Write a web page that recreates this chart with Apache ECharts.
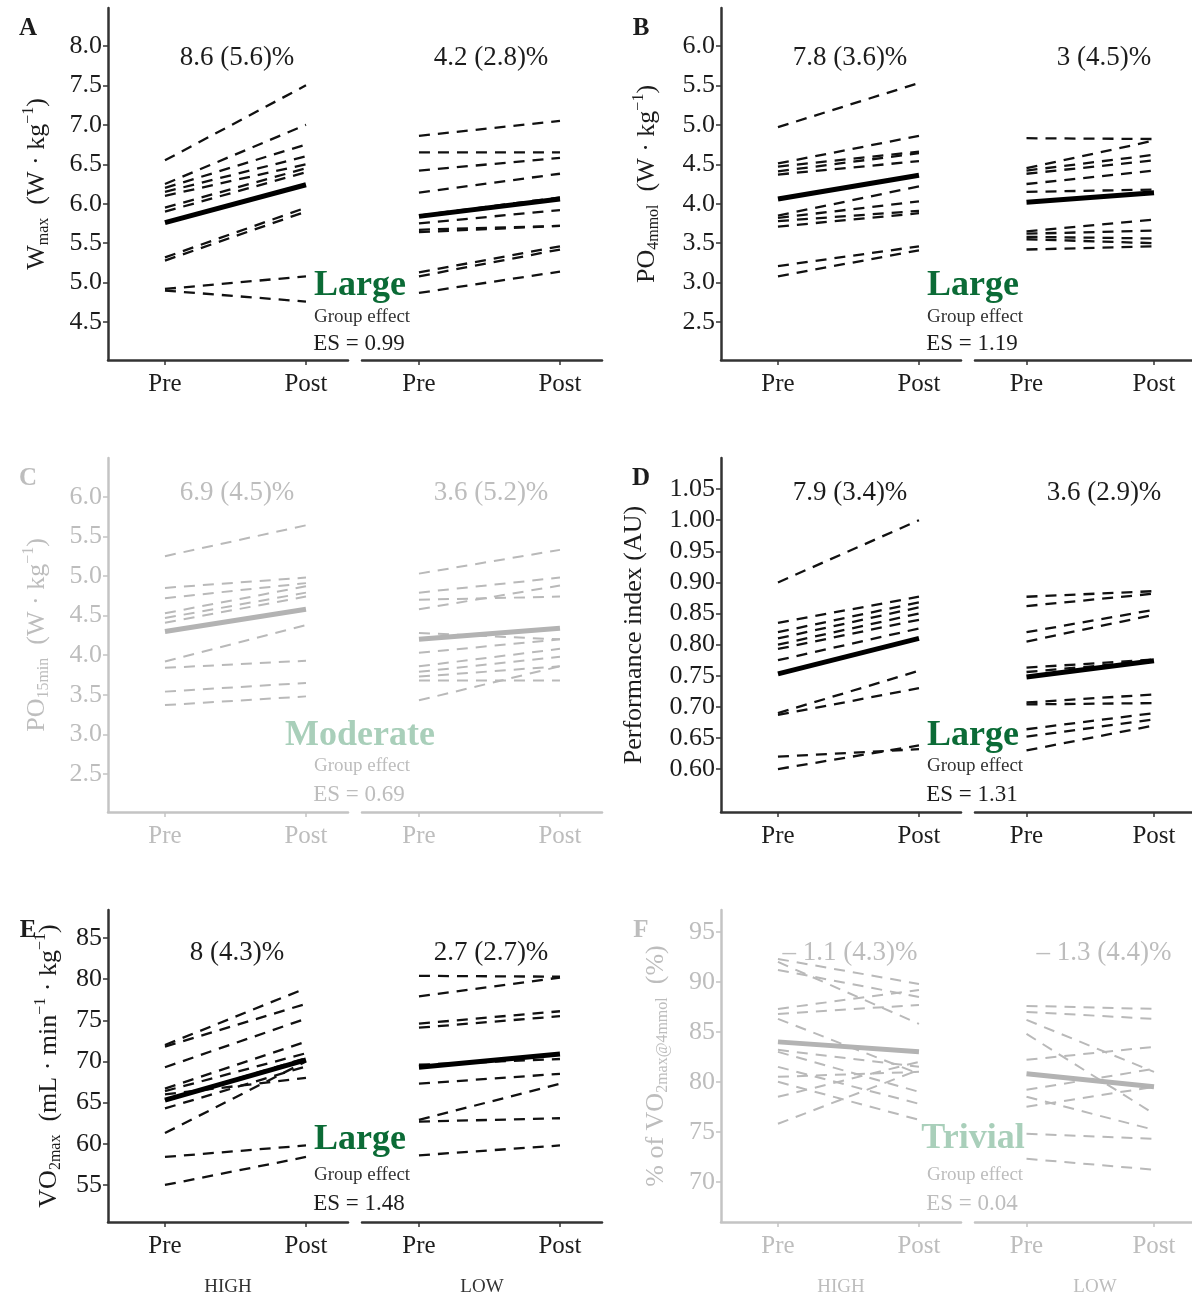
<!DOCTYPE html>
<html>
<head>
<meta charset="utf-8">
<script src="https://cdn.jsdelivr.net/npm/echarts@6/dist/echarts.min.js"></script>
<style>
  html, body { margin: 0; padding: 0; background: #fff; }
  #chart { width: 1192px; height: 1298px; }
</style>
</head>
<body>
<div id="chart"></div>
<script>
  // x categories
  const phases = ['Pre', 'Post'];
  const groups = ['HIGH', 'LOW'];

  // A - Wmax
  const aTicks = [4.5, 5.0, 5.5, 6.0, 6.5, 7.0, 7.5, 8.0];
  const aHighPre = [6.55, 6.25, 6.2, 6.15, 6.1, 5.95, 5.9, 5.32, 5.28, 4.92, 4.9];
  const aHighPost = [7.5, 7.0, 6.75, 6.6, 6.5, 6.45, 6.4, 5.95, 5.9, 5.08, 4.76];
  const aHighMean = [5.76, 6.24];
  const aLowPre = [6.86, 6.65, 6.42, 6.14, 5.85, 5.75, 5.67, 5.64, 5.13, 5.08, 4.87];
  const aLowPost = [7.05, 6.65, 6.58, 6.38, 6.08, 5.92, 5.72, 5.72, 5.46, 5.42, 5.14];
  const aLowMean = [5.84, 6.06];
  const aChange = ['8.6 (5.6)%', '4.2 (2.8)%'];
  const aEffect = ['Large', 'ES = 0.99'];

  // B - PO4mmol
  const bTicks = [2.5, 3.0, 3.5, 4.0, 4.5, 5.0, 5.5, 6.0];
  const bHighPre = [4.97, 4.51, 4.47, 4.41, 4.37, 3.85, 3.82, 3.78, 3.71, 3.21, 3.08];
  const bHighPost = [5.53, 4.86, 4.66, 4.64, 4.54, 4.22, 4.03, 3.91, 3.88, 3.46, 3.41];
  const bHighMean = [4.06, 4.36];
  const bLowPre = [4.83, 4.45, 4.42, 4.38, 4.25, 4.15, 3.65, 3.62, 3.58, 3.55, 3.42];
  const bLowPost = [4.82, 4.80, 4.62, 4.55, 4.42, 4.18, 3.80, 3.66, 3.56, 3.50, 3.46];
  const bLowMean = [4.02, 4.14];
  const bChange = ['7.8 (3.6)%', '3 (4.5)%'];
  const bEffect = ['Large', 'ES = 1.19'];

  // C - PO15min
  const cTicks = [2.5, 3.0, 3.5, 4.0, 4.5, 5.0, 5.5, 6.0];
  const cHighPre = [5.25, 4.85, 4.72, 4.53, 4.47, 4.41, 3.92, 3.84, 3.54, 3.37];
  const cHighPost = [5.64, 4.98, 4.91, 4.87, 4.79, 4.74, 4.38, 3.93, 3.65, 3.48];
  const cHighMean = [4.30, 4.58];
  const cLowPre = [5.03, 4.79, 4.70, 4.58, 4.28, 4.03, 3.86, 3.79, 3.73, 3.68, 3.43];
  const cLowPost = [5.33, 4.98, 4.74, 4.88, 4.20, 4.20, 4.08, 3.98, 3.86, 3.68, 3.86];
  const cLowMean = [4.20, 4.34];
  const cChange = ['6.9 (4.5)%', '3.6 (5.2)%'];
  const cEffect = ['Moderate', 'ES = 0.69'];

  // D - Performance index
  const dTicks = [0.60, 0.65, 0.70, 0.75, 0.80, 0.85, 0.90, 0.95, 1.00, 1.05];
  const dHighPre = [0.900, 0.835, 0.820, 0.810, 0.800, 0.793, 0.775, 0.690, 0.687, 0.620, 0.600];
  const dHighPost = [1.000, 0.877, 0.868, 0.860, 0.850, 0.840, 0.826, 0.758, 0.730, 0.632, 0.638];
  const dHighMean = [0.753, 0.810];
  const dLowPre = [0.877, 0.862, 0.820, 0.805, 0.763, 0.756, 0.707, 0.704, 0.664, 0.652, 0.630];
  const dLowPost = [0.886, 0.882, 0.856, 0.848, 0.776, 0.774, 0.720, 0.706, 0.690, 0.680, 0.670];
  const dLowMean = [0.748, 0.774];
  const dChange = ['7.9 (3.4)%', '3.6 (2.9)%'];
  const dEffect = ['Large', 'ES = 1.31'];

  // E - VO2max
  const eTicks = [55, 60, 65, 70, 75, 80, 85];
  const eHighPre = [72.0, 71.8, 69.3, 66.7, 66.4, 66.0, 65.3, 64.3, 61.3, 58.4, 55.0];
  const eHighPost = [78.9, 77.0, 75.2, 72.4, 71.0, 68.0, 70.4, 69.4, 70.0, 59.8, 58.4];
  const eHighMean = [65.3, 70.2];
  const eLowPre = [80.4, 77.9, 74.6, 74.1, 69.6, 67.3, 62.9, 62.7, 58.6];
  const eLowPost = [80.3, 80.2, 76.1, 75.5, 70.3, 68.5, 67.3, 63.1, 59.8];
  const eLowMean = [69.3, 70.9];
  const eChange = ['8 (4.3)%', '2.7 (2.7)%'];
  const eEffect = ['Large', 'ES = 1.48'];

  // F - % of VO2max at 4 mmol
  const fTicks = [70, 75, 80, 85, 90, 95];
  const fHighPre = [92.3, 92.0, 91.2, 87.3, 86.8, 86.3, 83.2, 83.0, 81.5, 80.5, 80.0, 78.5, 75.8];
  const fHighPost = [89.8, 85.8, 88.5, 89.2, 87.7, 80.8, 81.5, 79.0, 77.8, 81.0, 76.2, 82.0, 81.2];
  const fHighMean = [84.0, 83.0];
  const fLowPre = [87.6, 87.0, 86.2, 84.8, 82.2, 79.2, 78.5, 77.5, 74.8, 72.3];
  const fLowPost = [87.3, 86.3, 81.0, 76.8, 83.5, 81.3, 75.2, 79.5, 74.3, 71.2];
  const fLowMean = [80.8, 79.5];
  const fChange = ['\u2013 1.1 (4.3)%', '\u2013 1.3 (4.4)%'];
  const fEffect = ['Trivial', 'ES = 0.04'];

  const FONT = '"Liberation Serif", "Times New Roman", serif';
  const DARK = '#1c1c1c';
  const FADE = '#bdbdbd';
  const GREEN = '#0b6b36';
  const GREEN_FADE = '#a9cfba';

  const panels = [
    {letter: 'A', x: 108, top: 8, bottom: 360, min: 4.02, max: 8.48, ticks: aTicks, dec: 1, faded: false,
      name: '{n|W}{s|max}{n|  (W · kg}{p|\u22121}{n|)}', nameGap: 54,
      high: [aHighPre, aHighPost, aHighMean], low: [aLowPre, aLowPost, aLowMean],
      change: aChange, changeY: 58, effect: aEffect, effectY: [286, 317, 344]},
    {letter: 'B', x: 721, top: 8, bottom: 360, min: 2.02, max: 6.48, ticks: bTicks, dec: 1, faded: false,
      name: '{n|PO}{s|4mmol}{n|  (W · kg}{p|\u22121}{n|)}', nameGap: 57,
      high: [bHighPre, bHighPost, bHighMean], low: [bLowPre, bLowPost, bLowMean],
      change: bChange, changeY: 58, effect: bEffect, effectY: [286, 317, 344]},
    {letter: 'C', x: 108, top: 458, bottom: 812, min: 2.02, max: 6.49, ticks: cTicks, dec: 1, faded: true,
      name: '{n|PO}{s|15min}{n|  (W · kg}{p|\u22121}{n|)}', nameGap: 54,
      high: [cHighPre, cHighPost, cHighMean], low: [cLowPre, cLowPost, cLowMean],
      change: cChange, changeY: 493, effect: cEffect, effectY: [736, 766, 795]},
    {letter: 'D', x: 721, top: 458, bottom: 812, min: 0.531, max: 1.10, ticks: dTicks, dec: 2, faded: false,
      name: '{n|Performance index (AU)}', nameGap: 70,
      high: [dHighPre, dHighPost, dHighMean], low: [dLowPre, dLowPost, dLowMean],
      change: dChange, changeY: 493, effect: dEffect, effectY: [736, 766, 795]},
    {letter: 'E', x: 108, top: 910, bottom: 1222, min: 50.5, max: 88.4, ticks: eTicks, dec: 0, faded: false,
      name: '{n|VO}{s|2max}{n|  (mL · min}{p|\u22121}{n| · kg}{p|\u22121}{n|)}', nameGap: 42,
      high: [eHighPre, eHighPost, eHighMean], low: [eLowPre, eLowPost, eLowMean],
      change: eChange, changeY: 953, effect: eEffect, effectY: [1140, 1175, 1204]},
    {letter: 'F', x: 721, top: 910, bottom: 1222, min: 65.97, max: 97.2, ticks: fTicks, dec: 0, faded: true,
      name: '{n|% of VO}{s|2max@4mmol}{n|  (%)}', nameGap: 48,
      high: [fHighPre, fHighPost, fHighMean], low: [fLowPre, fLowPost, fLowMean],
      change: fChange, changeY: 953, effect: fEffect, effectY: [1139, 1175, 1204]}
  ];

  const grid = [], xAxis = [], yAxis = [], series = [], graphic = [];

  function txt(x, y, text, size, color, weight) {
    return {
      type: 'text', x: x, y: y, z: 100, silent: true,
      style: {
        text: text, font: (weight || 'normal') + ' ' + size + 'px ' + FONT, fill: color,
        textAlign: 'center', textVerticalAlign: 'middle', align: 'center', verticalAlign: 'middle'
      }
    };
  }

  let gi = 0;
  panels.forEach(p => {
    const col = p.faded ? FADE : DARK;
    const lineCol = p.faded ? '#b9b9b9' : '#111';
    const axCol = p.faded ? '#c4c4c4' : '#333';
    [0, 1].forEach(g => {
      const left = p.x + g * 254;
      grid.push({left: left, top: p.top, width: 240, height: p.bottom - p.top});
      xAxis.push({
        type: 'value', gridIndex: gi, min: 0.596, max: 2.298,
        axisLine: {show: true, onZero: false, lineStyle: {color: axCol, width: 2.5}},
        axisTick: {show: true, customValues: [1, 2], length: 5, lineStyle: {color: axCol, width: 1.5}},
        axisLabel: {customValues: [1, 2], formatter: v => phases[v - 1], margin: 12,
          fontFamily: FONT, fontSize: 25, color: col},
        splitLine: {show: false}
      });
      yAxis.push({
        type: 'value', gridIndex: gi, min: p.min, max: p.max, show: g === 0,
        axisLine: {show: true, lineStyle: {color: axCol, width: 2.5}},
        axisTick: {show: true, customValues: p.ticks, length: 5, lineStyle: {color: axCol, width: 1.5}},
        axisLabel: {customValues: p.ticks, formatter: v => v.toFixed(p.dec), margin: 6,
          fontFamily: FONT, fontSize: 26, color: col},
        splitLine: {show: false},
        name: g === 0 ? p.name : '', nameLocation: 'middle', nameGap: p.nameGap, nameRotate: 90,
        nameTextStyle: {
          fontFamily: FONT, fontSize: 26, color: col,
          rich: {
            n: {fontFamily: FONT, fontSize: 26, color: col, lineHeight: 34, verticalAlign: 'middle'},
            s: {fontFamily: FONT, fontSize: 16, color: col, lineHeight: 34, verticalAlign: 'bottom', padding: [0, 0, 2, 0]},
            p: {fontFamily: FONT, fontSize: 16, color: col, lineHeight: 34, verticalAlign: 'top', padding: [1, 0, 0, 0]}
          }
        }
      });
      const [pre, post, mean] = g === 0 ? p.high : p.low;
      pre.forEach((v, i) => {
        series.push({
          type: 'line', xAxisIndex: gi, yAxisIndex: gi, silent: true, symbol: 'none', animation: false,
          data: [[1, v], [2, post[i]]],
          lineStyle: {color: lineCol, width: p.faded ? 2 : 2.3, type: [11, 8]}, z: 2
        });
      });
      series.push({
        type: 'line', xAxisIndex: gi, yAxisIndex: gi, silent: true, symbol: 'none', animation: false,
        data: [[1, mean[0]], [2, mean[1]]],
        lineStyle: {color: p.faded ? '#b3b3b3' : '#000', width: 5}, z: 3
      });
      graphic.push(txt(left + 129, p.changeY, p.change[g], 27, col));
      gi++;
    });
    graphic.push(txt(p.x - 80, p.top + 21, p.letter, 25, col, 'bold'));
    const ex = p.x + 252;
    graphic.push(txt(ex, p.effectY[0], p.effect[0], 36, p.faded ? GREEN_FADE : GREEN, 'bold'));
    graphic.push(txt(ex + 2, p.effectY[1], 'Group effect', 19, p.faded ? FADE : '#333'));
    graphic.push(txt(ex - 1, p.effectY[2], p.effect[1], 23, col));
    if (p.letter === 'E' || p.letter === 'F') {
      graphic.push(txt(p.x + 120, 1287, groups[0], 19, p.faded ? FADE : '#333'));
      graphic.push(txt(p.x + 374, 1287, groups[1], 19, p.faded ? FADE : '#333'));
    }
  });

  const chart = echarts.init(document.getElementById('chart'));
  chart.setOption({
    backgroundColor: '#fff',
    animation: false,
    grid: grid,
    xAxis: xAxis,
    yAxis: yAxis,
    series: series,
    graphic: graphic
  });
</script>
</body>
</html>
